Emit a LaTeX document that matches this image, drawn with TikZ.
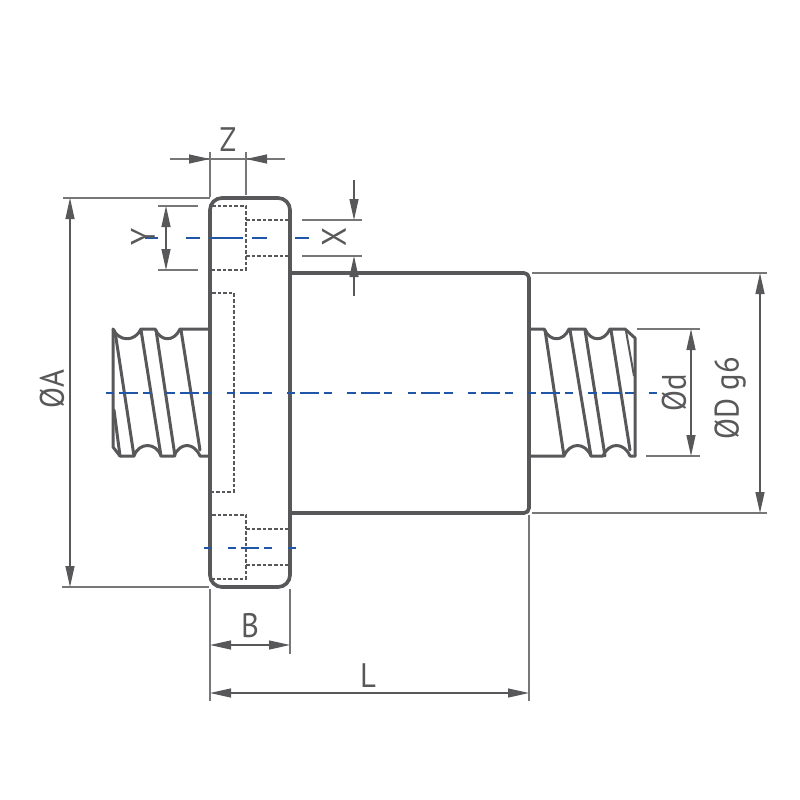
\documentclass[tikz,border=0pt]{standalone}
\usepackage{fontspec}
\setmainfont[FakeStretch=0.9]{PT Sans}
\usetikzlibrary{arrows.meta}
\definecolor{ink}{HTML}{58585A}
\definecolor{thin}{HTML}{77777A}
\definecolor{cblue}{HTML}{1F56A8}
\tikzset{
  outline/.style={draw=ink,line width=3.7pt,line join=round,line cap=round},
  helix/.style={draw=ink,line width=3pt,line join=round,line cap=round},
  hidden/.style={draw=ink,line width=1.5pt,dash pattern=on 3.6pt off 2pt},
  ext/.style={draw=thin,line width=1.2pt},
  dimarrow/.style={draw=ink,line width=1.2pt,{Triangle[length=21pt,width=9pt]}-{Triangle[length=21pt,width=9pt]}},
  tipend/.style={draw=ink,line width=1.2pt,-{Triangle[length=21pt,width=9pt]}},
  axis/.style={draw=cblue,line width=1.7pt},
  label/.style={text=ink,font=\fontsize{34}{34}\selectfont,inner sep=0pt},
}
\begin{document}
\begin{tikzpicture}[x=1pt,y=-1pt]
\useasboundingbox (0,0) rectangle (800,800);
% left screw
\draw[helix] (113,329) .. controls (119,342) and (135,342) .. (141,329) -- (155,329)
   .. controls (161,342) and (174,342) .. (180,329) -- (210,329);
\draw[helix] (120,456) -- (134,456) .. controls (139,442) and (156,442) .. (161,456) -- (174,456)
   .. controls (180,442) and (194,442) .. (200,456) -- (210,456);
\draw[helix] (113,329) -- (113,447) -- (120,456);
\draw[helix] (114,410) -- (120,456);
\draw[helix] (114,330) -- (116,338) -- (134,456);
\draw[helix] (141,330) -- (161,456);
\draw[helix] (156,330) -- (175,456);
\draw[helix] (181,330) -- (200,450);
% right screw
\draw[helix] (530,329) -- (544,329) .. controls (550,342) and (563,342) .. (569,329) -- (585,329)
   .. controls (591,342) and (604,342) .. (610,329) -- (625,329) -- (635,338) -- (635,456);
\draw[helix] (530,456) -- (564,456) .. controls (570,442) and (585,442) .. (591,456) -- (603,456)
   .. controls (609,442) and (624,442) .. (630,456) -- (635,456);
\draw[helix] (545,330) -- (564,456);
\draw[helix] (570,330) -- (591,456);
\draw[helix] (585,330) -- (605,456);
\draw[helix] (611,330) -- (630,450);
\draw[ink,line width=2pt] (626,331) -- (634,376);
% body
\draw[outline,rounded corners=5pt] (290,273) -- (529,273) -- (529,513) -- (290,513);
% flange
\draw[outline,rounded corners=12pt] (210,198) rectangle (290,587);
% hidden lines
\draw[hidden] (212,206) -- (246,206) -- (246,270) -- (212,270);
\draw[hidden] (246,220) -- (289,220);
\draw[hidden] (246,256) -- (289,256);
\draw[hidden] (212,293) -- (234,293) -- (234,492) -- (212,492);
\draw[hidden] (212,515) -- (246,515) -- (246,579) -- (212,579);
\draw[hidden] (246,529) -- (289,529);
\draw[hidden] (246,565) -- (289,565);
% centre lines
\draw[axis,dash pattern=on 8.3pt off 5pt on 19pt off 4.5pt on 8.3pt off 15.2pt] (106,393) -- (660,393);
\draw[axis,dash pattern=on 14pt off 10pt on 33pt off 9pt on 15pt off 28pt,dash phase=68pt] (145,238) -- (310,238);
\draw[axis,dash pattern=on 8pt off 5pt on 18pt off 5pt on 8pt off 16pt,dash phase=36pt] (204,548) -- (297,548);
% extension lines
\draw[ext] (63,198) -- (210,198);
\draw[ext] (62,587) -- (209,587);
\draw[ext] (210,152) -- (210,197);
\draw[ext] (246,152) -- (246,195);
\draw[ext] (158,206) -- (198,206);
\draw[ext] (158,270) -- (198,270);
\draw[ext] (302,220) -- (362,220);
\draw[ext] (302,256) -- (362,256);
\draw[ext] (637,329) -- (700,329);
\draw[ext] (646,456) -- (700,456);
\draw[ext] (532,273) -- (767,273);
\draw[ext] (532,513) -- (767,513);
\draw[ext] (210,589) -- (210,701);
\draw[ext] (290,589) -- (290,654);
\draw[ext] (529,515) -- (529,701);
% dimension lines
\draw[dimarrow] (70,198) -- (70,587);
\draw[dimarrow] (166,206) -- (166,270);
\draw[dimarrow] (691,329) -- (691,456);
\draw[dimarrow] (760,273) -- (760,513);
\draw[dimarrow] (210,645) -- (290,645);
\draw[dimarrow] (210,693) -- (529,693);
\draw[ext] (170,159) -- (285,159);
\draw[tipend] (190,159) -- (210,159);
\draw[tipend] (266,159) -- (246,159);
\draw[tipend] (354,180) -- (354,220);
\draw[tipend] (354,296) -- (354,256);
% labels
\node[label] (lz) at (228,140) {Z};
\node[label,rotate=90] (ly) at (143,237) {Y};
\node[label,rotate=90] (lx) at (334,237) {X};
\node[label,rotate=90] (la) at (52,389) {ØA};
\node[label,rotate=90] (ld) at (674,393) {Ød};
\node[label,rotate=90] (ldd) at (730,398) {ØD g6};
\node[label] (lb) at (250,626) {B};
\node[label] (ll) at (368,676) {L};
\end{tikzpicture}
\end{document}
